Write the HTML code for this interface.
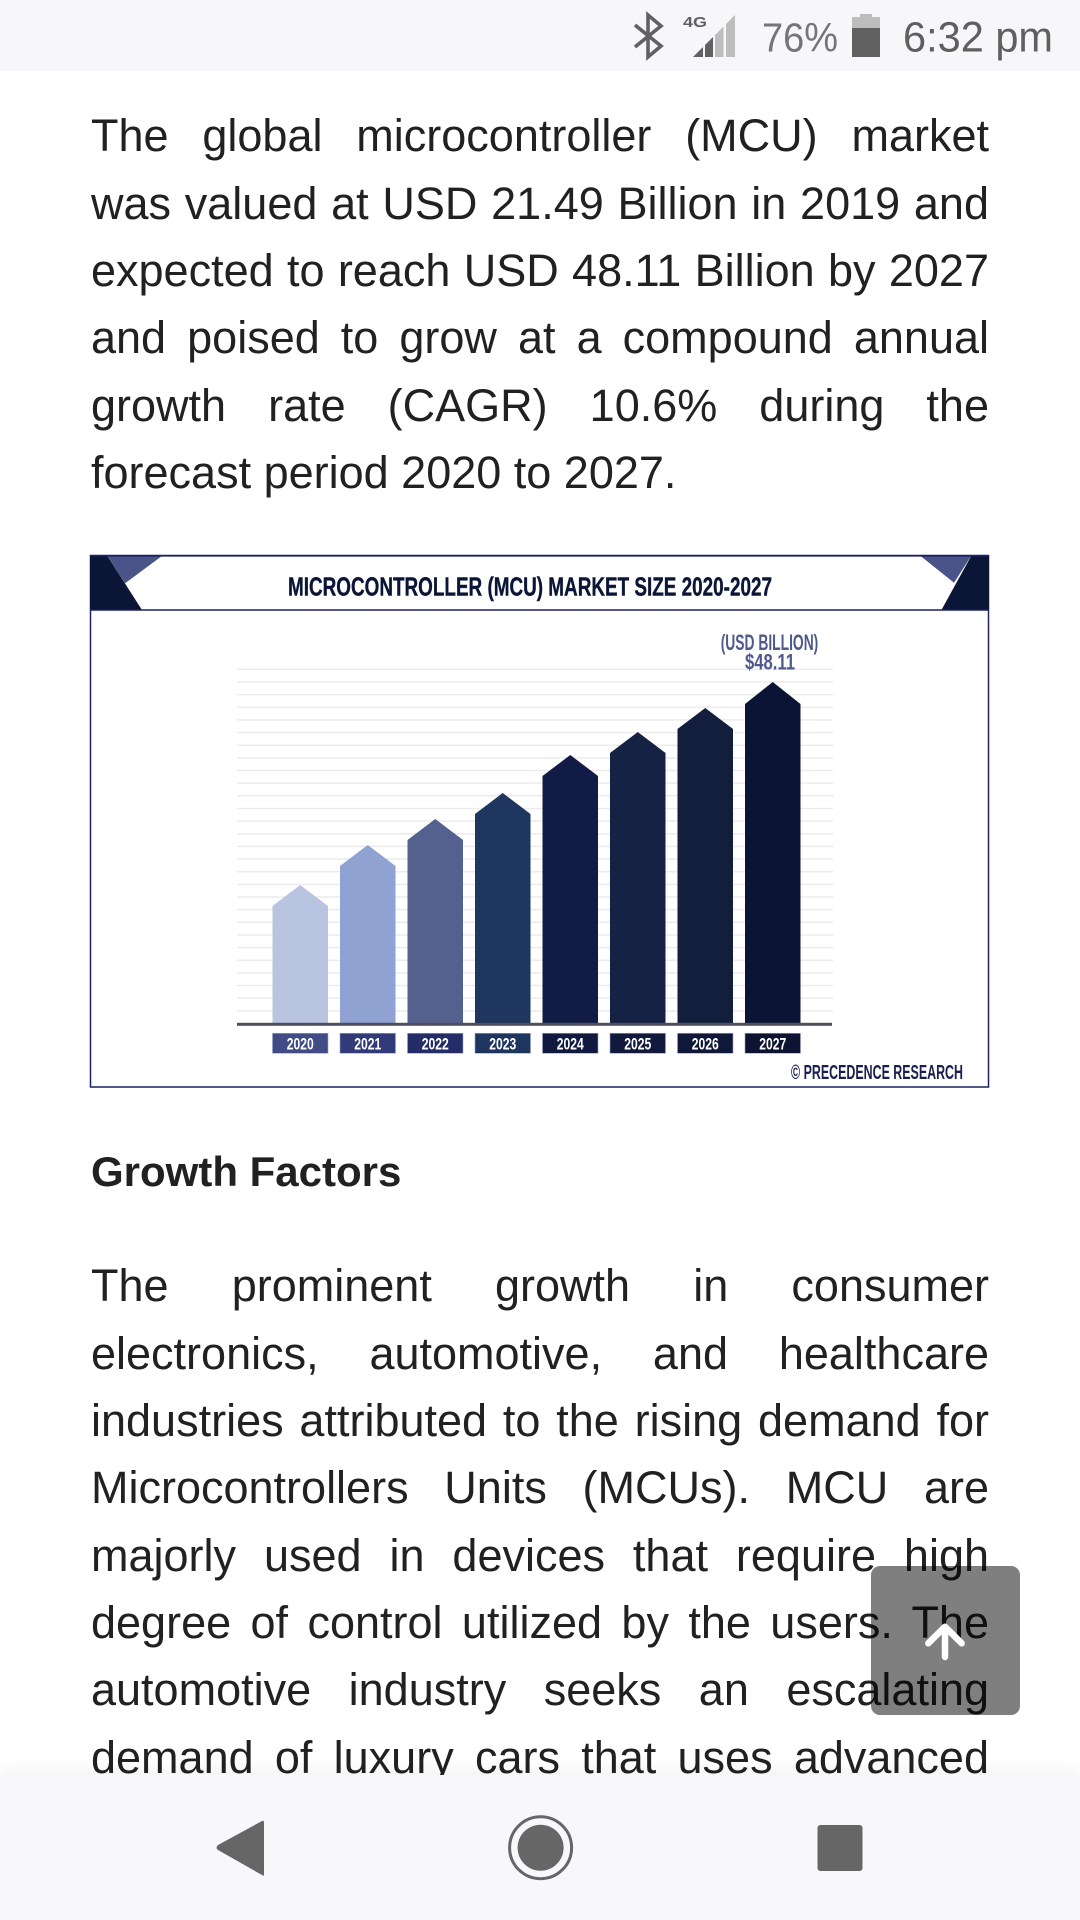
<!DOCTYPE html>
<html>
<head>
<meta charset="utf-8">
<style>
  html, body { margin:0; padding:0; }
  body { width:1080px; height:1920px; position:relative; overflow:hidden; background:#ffffff;
         font-family:"Liberation Sans", Arial, sans-serif; color:#222222; }
  .status { position:absolute; left:0; top:0; width:1080px; height:71px; background:#f7f7f9; }
  .para { position:absolute; left:91px; width:898px; font-size:45px; color:#212121; }
  .line { height:67.35px; line-height:67.35px; text-align:justify; text-align-last:justify; white-space:nowrap; }
  .line.last { text-align:left; text-align-last:left; }
  .heading { position:absolute; left:91px; top:1147px; font-size:42px; line-height:50px; font-weight:bold; color:#212121; }
  .nav { position:absolute; left:0; top:1775px; width:1080px; height:145px; background:#f8f8fa;
         box-shadow:0 -6px 14px rgba(0,0,0,0.05); }
  .scroll { position:absolute; left:871px; top:1566px; width:149px; height:149px; border-radius:9px;
            background:rgba(0,0,0,0.5); }
  svg { position:absolute; }
</style>
</head>
<body>

<div class="status">
  <svg width="1080" height="71" style="left:0;top:0">
    <path d="M635 25 L661 46 L648 57 L648 15 L661 26 L635 47" fill="none" stroke="#616161" stroke-width="3.6" stroke-linejoin="miter"/>
    <text x="683" y="27" font-family="Liberation Sans, sans-serif" font-weight="bold" font-size="15" fill="#616161" textLength="24" lengthAdjust="spacingAndGlyphs">4G</text>
    <polygon points="693,57 703,57 703,47 693,57" fill="#616161"/>
    <polygon points="705,57 713,57 713,37 705,45" fill="#616161"/>
    <polygon points="715,57 723.5,57 723.5,26.5 715,35" fill="#bdbdbd"/>
    <polygon points="726,57 735,57 735,15 726,24" fill="#bdbdbd"/>
    <text x="762" y="51.7" font-family="Liberation Sans, sans-serif" font-size="41" fill="#757575" textLength="76" lengthAdjust="spacingAndGlyphs">76%</text>
    <rect x="860" y="14" width="12" height="4" fill="#bdbdbd"/>
    <rect x="852" y="17" width="28" height="11" fill="#bdbdbd"/>
    <rect x="852" y="28" width="28" height="29" fill="#616161"/>
    <text x="903" y="51.7" font-family="Liberation Sans, sans-serif" font-size="43" fill="#5f5f5f" textLength="150" lengthAdjust="spacingAndGlyphs">6:32 pm</text>
  </svg>
</div>

<div class="para" style="top:102.4px">
  <div class="line">The global microcontroller (MCU) market</div>
  <div class="line">was valued at USD 21.49 Billion in 2019 and</div>
  <div class="line">expected to reach USD 48.11 Billion by 2027</div>
  <div class="line">and poised to grow at a compound annual</div>
  <div class="line">growth rate (CAGR) 10.6% during the</div>
  <div class="line last">forecast period 2020 to 2027.</div>
</div>

<svg width="1080" height="1920" style="left:0;top:0" viewBox="0 0 1080 1920">
  <rect x="90.5" y="555.5" width="898" height="531.5" fill="#ffffff" stroke="#1b2060" stroke-width="1.5"/>
  <polygon points="90,555 106.7,555 141.7,609.5 90,609.5" fill="#0b1536"/>
  <polygon points="106.7,555 163.3,555 125,583.3" fill="#4a5488"/>
  <polygon points="971.7,555 989,555 989,609.5 941.7,609.5" fill="#0b1536"/>
  <polygon points="919.3,555 971.7,555 954,582.7" fill="#4a5488"/>
  <line x1="90" y1="555.8" x2="989" y2="555.8" stroke="#1b2060" stroke-width="1.6"/>
  <line x1="90" y1="610" x2="989" y2="610" stroke="#1b2060" stroke-width="1.6"/>
  <text x="288" y="595.6" font-family="Liberation Sans, sans-serif" font-weight="bold" font-size="26" fill="#0b1536" stroke="#0b1536" stroke-width="0.4" textLength="484" lengthAdjust="spacingAndGlyphs">MICROCONTROLLER (MCU) MARKET SIZE 2020-2027</text>

  <g stroke="#ebebeb" stroke-width="1.5">
    <line x1="237" y1="669.3" x2="833" y2="669.3"/>
    <line x1="237" y1="681.95" x2="833" y2="681.95"/>
    <line x1="237" y1="694.6" x2="833" y2="694.6"/>
    <line x1="237" y1="707.25" x2="833" y2="707.25"/>
    <line x1="237" y1="719.9" x2="833" y2="719.9"/>
    <line x1="237" y1="732.55" x2="833" y2="732.55"/>
    <line x1="237" y1="745.2" x2="833" y2="745.2"/>
    <line x1="237" y1="757.85" x2="833" y2="757.85"/>
    <line x1="237" y1="770.5" x2="833" y2="770.5"/>
    <line x1="237" y1="783.15" x2="833" y2="783.15"/>
    <line x1="237" y1="795.8" x2="833" y2="795.8"/>
    <line x1="237" y1="808.45" x2="833" y2="808.45"/>
    <line x1="237" y1="821.1" x2="833" y2="821.1"/>
    <line x1="237" y1="833.75" x2="833" y2="833.75"/>
    <line x1="237" y1="846.4" x2="833" y2="846.4"/>
    <line x1="237" y1="859.05" x2="833" y2="859.05"/>
    <line x1="237" y1="871.7" x2="833" y2="871.7"/>
    <line x1="237" y1="884.35" x2="833" y2="884.35"/>
    <line x1="237" y1="897" x2="833" y2="897"/>
    <line x1="237" y1="909.65" x2="833" y2="909.65"/>
    <line x1="237" y1="922.3" x2="833" y2="922.3"/>
    <line x1="237" y1="934.95" x2="833" y2="934.95"/>
    <line x1="237" y1="947.6" x2="833" y2="947.6"/>
    <line x1="237" y1="960.25" x2="833" y2="960.25"/>
    <line x1="237" y1="972.9" x2="833" y2="972.9"/>
    <line x1="237" y1="985.55" x2="833" y2="985.55"/>
    <line x1="237" y1="998.2" x2="833" y2="998.2"/>
    <line x1="237" y1="1010.85" x2="833" y2="1010.85"/>
  </g>

  <polygon points="272.5,1023 272.5,906 300.25,885 328,906 328,1023" fill="#b8c4e0"/>
  <polygon points="340,1023 340,866 367.75,845 395.5,866 395.5,1023" fill="#8fa2d2"/>
  <polygon points="407.5,1023 407.5,840 435.25,819 463,840 463,1023" fill="#54608e"/>
  <polygon points="475,1023 475,814 502.75,793 530.5,814 530.5,1023" fill="#1f365f"/>
  <polygon points="542.5,1023 542.5,776 570.25,755 598,776 598,1023" fill="#111b46"/>
  <polygon points="610,1023 610,753 637.75,732 665.5,753 665.5,1023" fill="#152244"/>
  <polygon points="677.5,1023 677.5,729 705.25,708 733,729 733,1023" fill="#121e3c"/>
  <polygon points="745,1023 745,704 772.75,682 800.5,704 800.5,1023" fill="#0b1434"/>

  <rect x="237" y="1022.8" width="595" height="3" fill="#4d4f5c"/>

  <g stroke="#9aa3c8" stroke-width="0.6">
    <rect x="272.5" y="1033.3" width="55.5" height="20" fill="#414b86"/>
    <rect x="340" y="1033.3" width="55.5" height="20" fill="#323b78"/>
    <rect x="407.5" y="1033.3" width="55.5" height="20" fill="#252d68"/>
    <rect x="475" y="1033.3" width="55.5" height="20" fill="#1e3560"/>
    <rect x="542.5" y="1033.3" width="55.5" height="20" fill="#101a40"/>
    <rect x="610" y="1033.3" width="55.5" height="20" fill="#111a3c"/>
    <rect x="677.5" y="1033.3" width="55.5" height="20" fill="#0f1838"/>
    <rect x="745" y="1033.3" width="55.5" height="20" fill="#0c1432"/>
  </g>
  <g font-family="Liberation Sans, sans-serif" font-weight="bold" font-size="17" fill="#ffffff" text-anchor="middle">
    <text x="300.25" y="1049.5" textLength="27" lengthAdjust="spacingAndGlyphs">2020</text>
    <text x="367.75" y="1049.5" textLength="27" lengthAdjust="spacingAndGlyphs">2021</text>
    <text x="435.25" y="1049.5" textLength="27" lengthAdjust="spacingAndGlyphs">2022</text>
    <text x="502.75" y="1049.5" textLength="27" lengthAdjust="spacingAndGlyphs">2023</text>
    <text x="570.25" y="1049.5" textLength="27" lengthAdjust="spacingAndGlyphs">2024</text>
    <text x="637.75" y="1049.5" textLength="27" lengthAdjust="spacingAndGlyphs">2025</text>
    <text x="705.25" y="1049.5" textLength="27" lengthAdjust="spacingAndGlyphs">2026</text>
    <text x="772.75" y="1049.5" textLength="27" lengthAdjust="spacingAndGlyphs">2027</text>
  </g>

  <text x="720.7" y="650" font-family="Liberation Sans, sans-serif" font-weight="bold" font-size="22" fill="#4e5a8c" textLength="97.6" lengthAdjust="spacingAndGlyphs">(USD BILLION)</text>
  <text x="745" y="669.5" font-family="Liberation Sans, sans-serif" font-weight="bold" font-size="22" fill="#4e5a8c" textLength="50" lengthAdjust="spacingAndGlyphs">$48.11</text>
  <text x="791" y="1079" font-family="Liberation Sans, sans-serif" font-weight="bold" font-size="20" fill="#1a1f4f" textLength="172" lengthAdjust="spacingAndGlyphs">© PRECEDENCE RESEARCH</text>
</svg>

<div class="heading">Growth Factors</div>

<div class="para" style="top:1252.4px">
  <div class="line">The prominent growth in consumer</div>
  <div class="line">electronics, automotive, and healthcare</div>
  <div class="line">industries attributed to the rising demand for</div>
  <div class="line">Microcontrollers Units (MCUs). MCU are</div>
  <div class="line">majorly used in devices that require high</div>
  <div class="line">degree of control utilized by the users. The</div>
  <div class="line">automotive industry seeks an escalating</div>
  <div class="line">demand of luxury cars that uses advanced</div>
</div>

<div class="scroll">
  <svg width="149" height="149" style="left:0;top:0">
    <path d="M74 91 L74 61 M57.3 77.3 L74 60.7 L90.7 77.3" fill="none" stroke="#ffffff" stroke-width="6.5" stroke-linecap="round" stroke-linejoin="round"/>
  </svg>
</div>

<div class="nav">
  <svg width="1080" height="145" style="left:0;top:0">
    <path d="M262 46 Q264 45 264 48 L264 99 Q264 102 262 100 L218 75 Q215 73 218 70 Z" fill="#666666"/>
    <circle cx="540.6" cy="72.7" r="31" fill="none" stroke="#666666" stroke-width="3"/>
    <circle cx="540.6" cy="72.7" r="23" fill="#666666"/>
    <rect x="817.5" y="50" width="45" height="46" rx="3" fill="#666666"/>
  </svg>
</div>

</body>
</html>
